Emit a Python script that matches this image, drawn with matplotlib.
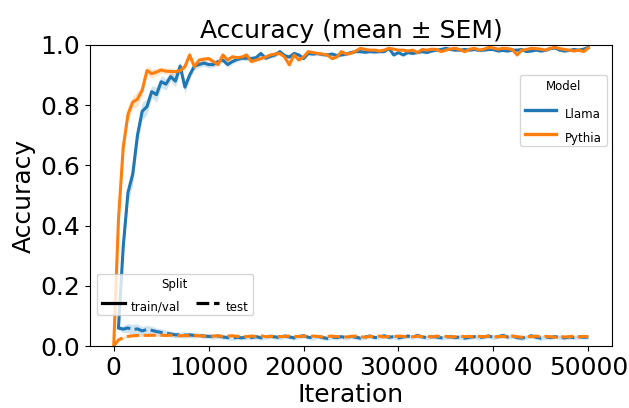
"""
Accuracy curves (mean +/- SEM) for Llama vs Pythia, train/val and test splits
"""
import numpy as np
import matplotlib
matplotlib.use('Agg')
import matplotlib.pyplot as plt
from matplotlib.lines import Line2D

# ------------------------------------------------------------
# Data
# ------------------------------------------------------------
pythia_iters = list(range(0, 50001, 500))
llama_iters = list(range(500, 50001, 500))

pythia_train = [
    0.0, 0.42, 0.66, 0.77, 0.81, 0.82, 0.85, 0.915, 0.905, 0.91,
    0.917, 0.913, 0.912, 0.911, 0.915, 0.928, 0.967, 0.928, 0.95, 0.953,
    0.955, 0.945, 0.935, 0.967, 0.95, 0.961, 0.958, 0.96, 0.967, 0.945,
    0.95, 0.955, 0.96, 0.967, 0.97, 0.972, 0.96, 0.934, 0.967, 0.95,
    0.96, 0.978, 0.975, 0.972, 0.97, 0.967, 0.955, 0.96, 0.978, 0.97,
    0.972, 0.98, 0.989, 0.985, 0.983, 0.983, 0.98, 0.983, 0.989, 0.986,
    0.983, 0.983, 0.98, 0.983, 0.975, 0.985, 0.983, 0.986, 0.985, 0.978,
    0.983, 0.987, 0.989, 0.984, 0.978, 0.986, 0.989, 0.983, 0.986, 0.992,
    0.99, 0.986, 0.989, 0.988, 0.985, 0.967, 0.983, 0.985, 0.989, 0.988,
    0.986, 0.983, 0.989, 0.992, 0.988, 0.985, 0.983, 0.98, 0.983, 0.978,
    0.99,
]
pythia_train_sem = [
    0.000, 0.030, 0.030, 0.025, 0.020, 0.025, 0.020, 0.015, 0.015, 0.012,
    0.010, 0.010, 0.012, 0.010, 0.010, 0.010, 0.008, 0.010, 0.008, 0.008,
    0.008, 0.007, 0.008, 0.007, 0.006, 0.007, 0.006, 0.006, 0.007, 0.008,
    0.006, 0.006, 0.005, 0.006, 0.005, 0.005, 0.006, 0.008, 0.006, 0.006,
    0.005, 0.005, 0.004, 0.005, 0.004, 0.005, 0.005, 0.004, 0.004, 0.005,
    0.004, 0.004, 0.003, 0.004, 0.004, 0.004, 0.003, 0.004, 0.004, 0.003,
    0.004, 0.004, 0.003, 0.004, 0.005, 0.004, 0.003, 0.004, 0.004, 0.004,
    0.003, 0.004, 0.003, 0.004, 0.004, 0.003, 0.004, 0.003, 0.004, 0.003,
    0.003, 0.003, 0.004, 0.003, 0.003, 0.006, 0.003, 0.003, 0.003, 0.004,
    0.003, 0.003, 0.003, 0.003, 0.003, 0.004, 0.003, 0.003, 0.003, 0.004,
    0.003,
]
pythia_test = [
    0.0, 0.02, 0.028, 0.032, 0.034, 0.035, 0.036, 0.035, 0.036, 0.035,
    0.036, 0.035, 0.036, 0.035, 0.034, 0.035, 0.034, 0.035, 0.034, 0.033,
    0.034, 0.033, 0.034, 0.032, 0.033, 0.034, 0.032, 0.033, 0.031, 0.033,
    0.032, 0.034, 0.031, 0.032, 0.033, 0.031, 0.032, 0.033, 0.031, 0.032,
    0.033, 0.031, 0.033, 0.032, 0.030, 0.032, 0.033, 0.031, 0.032, 0.030,
    0.032, 0.033, 0.031, 0.029, 0.032, 0.031, 0.033, 0.030, 0.032, 0.031,
    0.033, 0.032, 0.030, 0.031, 0.033, 0.031, 0.032, 0.030, 0.033, 0.031,
    0.032, 0.030, 0.031, 0.033, 0.031, 0.032, 0.030, 0.032, 0.031, 0.033,
    0.030, 0.031, 0.032, 0.030, 0.033, 0.031, 0.029, 0.032, 0.031, 0.033,
    0.030, 0.032, 0.031, 0.029, 0.032, 0.030, 0.031, 0.033, 0.030, 0.032,
    0.031,
]
pythia_test_sem = [
    0.000, 0.004, 0.004, 0.004, 0.004, 0.004, 0.004, 0.004, 0.004, 0.004,
    0.004, 0.004, 0.004, 0.004, 0.004, 0.004, 0.004, 0.004, 0.004, 0.004,
    0.004, 0.004, 0.004, 0.003, 0.004, 0.004, 0.003, 0.004, 0.003, 0.004,
    0.003, 0.004, 0.003, 0.003, 0.004, 0.003, 0.003, 0.004, 0.003, 0.003,
    0.003, 0.003, 0.004, 0.003, 0.003, 0.003, 0.004, 0.003, 0.003, 0.003,
    0.003, 0.003, 0.003, 0.003, 0.003, 0.003, 0.004, 0.003, 0.003, 0.003,
    0.003, 0.003, 0.003, 0.003, 0.004, 0.003, 0.003, 0.003, 0.003, 0.003,
    0.003, 0.003, 0.003, 0.003, 0.003, 0.003, 0.003, 0.003, 0.003, 0.003,
    0.003, 0.003, 0.003, 0.003, 0.003, 0.003, 0.003, 0.003, 0.003, 0.003,
    0.003, 0.003, 0.003, 0.003, 0.003, 0.003, 0.003, 0.003, 0.003, 0.003,
    0.003,
]

llama_train = [
    0.06, 0.33, 0.51, 0.57, 0.70, 0.78, 0.795, 0.845, 0.835, 0.878,
    0.87, 0.895, 0.88, 0.93, 0.86, 0.90, 0.93, 0.935, 0.94, 0.935,
    0.935, 0.945, 0.95, 0.935, 0.945, 0.952, 0.956, 0.956, 0.955, 0.958,
    0.972, 0.956, 0.962, 0.967, 0.978, 0.965, 0.96, 0.972, 0.967, 0.955,
    0.972, 0.97, 0.972, 0.968, 0.967, 0.97, 0.965, 0.967, 0.97, 0.975,
    0.978, 0.978, 0.976, 0.978, 0.977, 0.978, 0.978, 0.989, 0.967, 0.975,
    0.967, 0.975, 0.972, 0.975, 0.978, 0.975, 0.98, 0.983, 0.985, 0.989,
    0.985, 0.983, 0.983, 0.985, 0.983, 0.985, 0.982, 0.983, 0.985, 0.985,
    0.98, 0.982, 0.98, 0.983, 0.983, 0.985, 0.978, 0.98, 0.983, 0.98,
    0.982, 0.988, 0.99, 0.983, 0.98, 0.982, 0.985, 0.983, 0.986, 0.992,
]
llama_train_sem = [
    0.010, 0.030, 0.030, 0.035, 0.030, 0.030, 0.025, 0.020, 0.025, 0.020,
    0.020, 0.015, 0.020, 0.015, 0.020, 0.015, 0.012, 0.010, 0.010, 0.010,
    0.010, 0.008, 0.009, 0.010, 0.008, 0.008, 0.007, 0.008, 0.009, 0.007,
    0.008, 0.007, 0.006, 0.008, 0.007, 0.006, 0.007, 0.008, 0.006, 0.007,
    0.006, 0.006, 0.007, 0.005, 0.006, 0.007, 0.006, 0.005, 0.006, 0.005,
    0.005, 0.006, 0.005, 0.005, 0.006, 0.005, 0.005, 0.004, 0.006, 0.005,
    0.005, 0.006, 0.005, 0.004, 0.005, 0.004, 0.005, 0.004, 0.004, 0.004,
    0.004, 0.005, 0.004, 0.004, 0.005, 0.004, 0.004, 0.005, 0.004, 0.004,
    0.004, 0.004, 0.005, 0.004, 0.004, 0.005, 0.004, 0.004, 0.004, 0.004,
    0.004, 0.004, 0.004, 0.005, 0.004, 0.004, 0.004, 0.004, 0.004, 0.004,
]
llama_test = [
    0.06, 0.056, 0.06, 0.054, 0.057, 0.05, 0.055, 0.052, 0.048, 0.045,
    0.042, 0.04, 0.037, 0.038, 0.036, 0.037, 0.035, 0.036, 0.033, 0.032,
    0.031, 0.033, 0.03, 0.028, 0.026, 0.029, 0.027, 0.03, 0.028, 0.031,
    0.027, 0.03, 0.032, 0.03, 0.028, 0.033, 0.03, 0.027, 0.031, 0.034,
    0.029, 0.027, 0.032, 0.028, 0.025, 0.03, 0.028, 0.031, 0.027, 0.032,
    0.029, 0.026, 0.03, 0.033, 0.028, 0.03, 0.034, 0.029, 0.031, 0.027,
    0.03, 0.033, 0.029, 0.035, 0.03, 0.028, 0.031, 0.03, 0.027, 0.029,
    0.031, 0.028, 0.03, 0.026, 0.029, 0.031, 0.028, 0.03, 0.033, 0.029,
    0.031, 0.035, 0.03, 0.033, 0.028, 0.026, 0.03, 0.034, 0.029, 0.026,
    0.03, 0.028, 0.031, 0.029, 0.027, 0.03, 0.028, 0.031, 0.029, 0.03,
]
llama_test_sem = [
    0.005, 0.012, 0.015, 0.018, 0.016, 0.015, 0.014, 0.013, 0.012, 0.012,
    0.011, 0.010, 0.010, 0.009, 0.010, 0.009, 0.009, 0.008, 0.008, 0.008,
    0.008, 0.007, 0.008, 0.008, 0.007, 0.008, 0.007, 0.008, 0.007, 0.008,
    0.008, 0.007, 0.008, 0.007, 0.008, 0.008, 0.007, 0.008, 0.007, 0.008,
    0.007, 0.008, 0.007, 0.008, 0.007, 0.007, 0.008, 0.007, 0.008, 0.007,
    0.008, 0.007, 0.008, 0.007, 0.007, 0.008, 0.007, 0.008, 0.007, 0.008,
    0.007, 0.008, 0.007, 0.009, 0.007, 0.008, 0.007, 0.008, 0.007, 0.007,
    0.008, 0.007, 0.008, 0.007, 0.008, 0.007, 0.008, 0.007, 0.008, 0.008,
    0.007, 0.009, 0.008, 0.008, 0.007, 0.008, 0.007, 0.008, 0.007, 0.008,
    0.007, 0.008, 0.007, 0.008, 0.007, 0.008, 0.007, 0.008, 0.007, 0.008,
]

models = ['Llama', 'Pythia']
colors = {'Llama': '#1f77b4', 'Pythia': '#ff7f0e'}
series = {
    'Llama': (llama_iters, llama_train, llama_train_sem, llama_test, llama_test_sem),
    'Pythia': (pythia_iters, pythia_train, pythia_train_sem, pythia_test, pythia_test_sem),
}

# ------------------------------------------------------------
# Plot
# ------------------------------------------------------------
fig = plt.figure(figsize=(6.29, 4.08), dpi=100)
ax = fig.add_axes([90 / 629, 62 / 408, 522 / 629, 301 / 408])

dash = (0, (4, 1.5))
for m in models:
    x, tr, tr_sem, te, te_sem = (np.array(a, dtype=float) for a in series[m])
    c = colors[m]
    ax.fill_between(x, tr - tr_sem, tr + tr_sem, color=c, alpha=0.2, linewidth=0)
    ax.plot(x, tr, color=c, lw=2.2)
    ax.fill_between(x, te - te_sem, te + te_sem, color=c, alpha=0.2, linewidth=0)
    ax.plot(x, te, color=c, lw=2.2, linestyle=dash)

ax.set_ylim(0, 1.0)
ax.set_xlim(-2500, 52500)
ax.set_xticks([0, 10000, 20000, 30000, 40000, 50000])
ax.set_yticks([0.0, 0.2, 0.4, 0.6, 0.8, 1.0])
ax.tick_params(labelsize=18)
ax.set_xlabel('Iteration', fontsize=18, labelpad=2.5)
ax.set_ylabel('Accuracy', fontsize=18, labelpad=3)
ax.set_title('Accuracy (mean ± SEM)', fontsize=18, pad=5)

# Model legend
model_handles = [Line2D([], [], color=colors[m], lw=2.4) for m in models]
leg1 = ax.legend(model_handles, models, title='Model', loc='upper right',
                 bbox_to_anchor=(0.99, 0.90), borderaxespad=0,
                 fontsize=8.5, title_fontsize=8.5, handlelength=2.6,
                 labelspacing=0.95)
for t in leg1.get_texts():
    t.set_va('center')
ax.add_artist(leg1)

# Split legend
split_handles = [Line2D([], [], color='black', lw=2.3),
                 Line2D([], [], color='black', lw=2.3, linestyle=dash)]
leg2 = ax.legend(split_handles, ['train/val', 'test'], title='Split',
                 loc='lower left', bbox_to_anchor=(0.013, 0.103),
                 borderaxespad=0, ncol=2, fontsize=8.5, title_fontsize=8.5,
                 columnspacing=1.3, handletextpad=0.5)
for t in leg2.get_texts():
    t.set_va('center')

plt.savefig('out.png', dpi=100, facecolor='white')
print("Saved: out.png")
